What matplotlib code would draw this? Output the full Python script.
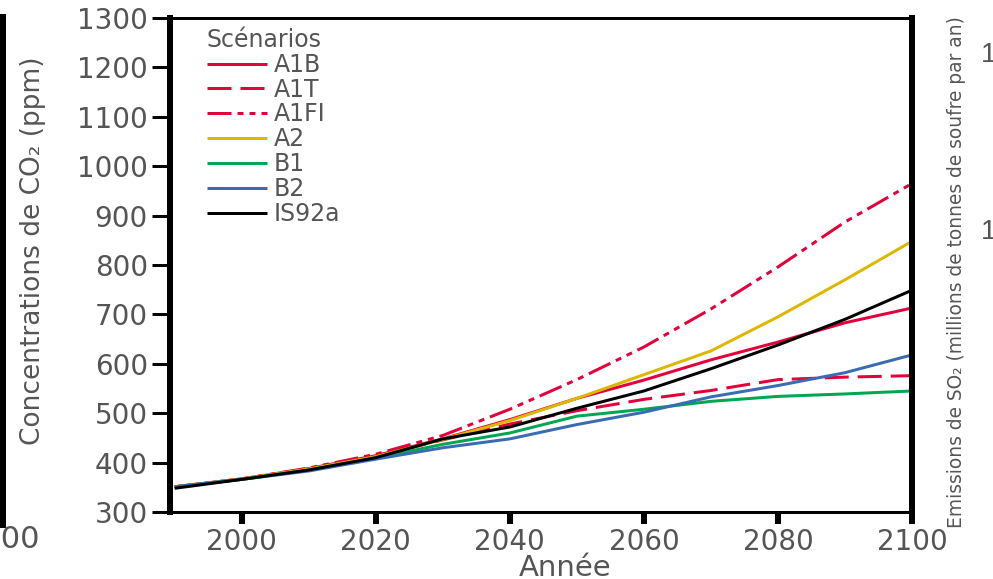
import matplotlib
matplotlib.use('Agg')
import matplotlib.pyplot as plt
from matplotlib.lines import Line2D
from matplotlib import font_manager as fm

# ---- data ----
years = [1990, 2000, 2010, 2020, 2030, 2040, 2050, 2060, 2070, 2080, 2090, 2100]
a1b   = [351, 367, 388, 414, 448, 487, 530, 567, 608, 644, 683, 713]
a1t   = [351, 367, 387, 413, 446, 478, 505, 528, 546, 568, 573, 576]
a1fi  = [351, 367, 389, 417, 455, 508, 568, 634, 711, 796, 887, 965]
a2    = [351, 367, 387, 412, 447, 485, 530, 578, 626, 695, 770, 848]
b1    = [351, 366, 385, 409, 437, 460, 494, 508, 524, 534, 539, 545]
b2    = [351, 366, 383, 407, 430, 448, 477, 502, 533, 556, 582, 618]
is92a = [348, 366, 385, 410, 448, 472, 510, 545, 590, 638, 690, 749]

series_names = ['A1B', 'A1T', 'A1FI', 'A2', 'B1', 'B2', 'IS92a']
series_vals = [a1b, a1t, a1fi, a2, b1, b2, is92a]

x_ticks = [2000, 2020, 2040, 2060, 2080, 2100]
y_ticks = [300, 400, 500, 600, 700, 800, 900, 1000, 1100, 1200, 1300]

# ---- styles ----
plt.rcParams['lines.scale_dashes'] = False
PX = 0.72  # points per pixel at dpi 100
RED = '#E4003A'
styles = [
    dict(color=RED, ls='-'),
    dict(color=RED, ls=(0, (24 * PX, 9 * PX))),
    dict(color=RED, ls=(0, (24 * PX, 6 * PX, 6 * PX, 6 * PX, 6 * PX, 6 * PX))),
    dict(color='#DDB800', ls='-'),
    dict(color='#00A651', ls='-'),
    dict(color='#3B6BB3', ls='-'),
    dict(color='#000000', ls='-'),
]
TXT = '#555555'

# pick a narrow family if one is installed
narrow = None
for cand in ['Liberation Sans Narrow', 'DejaVu Sans Condensed']:
    try:
        fm.findfont(fm.FontProperties(family=cand), fallback_to_default=False)
        narrow = cand
        break
    except Exception:
        pass
fam = [narrow, 'DejaVu Sans'] if narrow else ['DejaVu Sans']

W, H = 993, 579
fig = plt.figure(figsize=(W / 100, H / 100), dpi=100)
L, R, T, B = 170, 912, 18, 512
ax = fig.add_axes([L / W, 1 - B / H, (R - L) / W, (B - T) / H])

for name, vals, st in zip(series_names, series_vals, styles):
    ax.plot(years, vals, label=name, lw=3 * PX, solid_capstyle='butt',
            dash_capstyle='butt', **st)

ax.set_xlim(1989.3, 2100)
ax.set_ylim(300, 1300)
ax.set_xticks(x_ticks)
ax.set_yticks(y_ticks)
ax.set_xticklabels([str(v) for v in x_ticks])
ax.set_yticklabels([str(v) for v in y_ticks])

for side in ['left', 'right']:
    ax.spines[side].set_linewidth(6 * PX)
for side in ['top', 'bottom']:
    ax.spines[side].set_linewidth(3 * PX)
ax.tick_params(axis='y', direction='out', length=18 * PX, width=3 * PX,
               labelsize=20, labelcolor=TXT, pad=3)
ax.tick_params(axis='x', direction='out', length=12 * PX, width=6 * PX,
               labelsize=20, labelcolor=TXT, pad=3)

leg = ax.legend(title='Scénarios', loc='upper left',
                bbox_to_anchor=(207 / W, 1 - 28 / H),
                bbox_transform=fig.transFigure,
                frameon=False, fontsize=17, title_fontsize=17,
                handlelength=2.55, handletextpad=0.27, labelspacing=0.035,
                borderpad=0, borderaxespad=0, alignment='left')
for t in leg.get_texts():
    t.set_color(TXT)
leg.get_title().set_color(TXT)

ylab = fig.text(33 / W, 1 - 251 / H, 'Concentrations de CO₂ (ppm)',
                rotation=90, ha='center', va='center', fontsize=24,
                color=TXT, family=fam)
rlab = fig.text(957 / W, 1 - 272 / H,
                'Emissions de SO₂ (millions de tonnes de soufre par an)',
                rotation=90, ha='center', va='center', fontsize=18,
                color=TXT, family=fam)
fig.text(565 / W, 1 - 568 / H, 'Année', ha='center', va='center',
         fontsize=21, color=TXT)

# fit the rotated labels to the lengths seen in the reference
fig.canvas.draw()
rend = fig.canvas.get_renderer()
for txt, target in ((ylab, 388), (rlab, 515)):
    h = txt.get_window_extent(rend).height
    txt.set_fontsize(txt.get_fontsize() * target / h)

# fragments of neighbouring panels
fig.add_artist(Line2D([3 / W, 3 / W], [1 - 17 / H, 1 - 525 / H],
                      lw=6 * PX, color='k', transform=fig.transFigure))
fig.text(40 / W, 1 - 539 / H, '2100', ha='right', va='center', fontsize=22,
         color=TXT)
for yy in (55, 232):
    fig.text(981 / W, 1 - yy / H, '1', ha='left', va='center', fontsize=20,
             color=TXT, family='Liberation Sans')

fig.savefig('out.png', dpi=100)
